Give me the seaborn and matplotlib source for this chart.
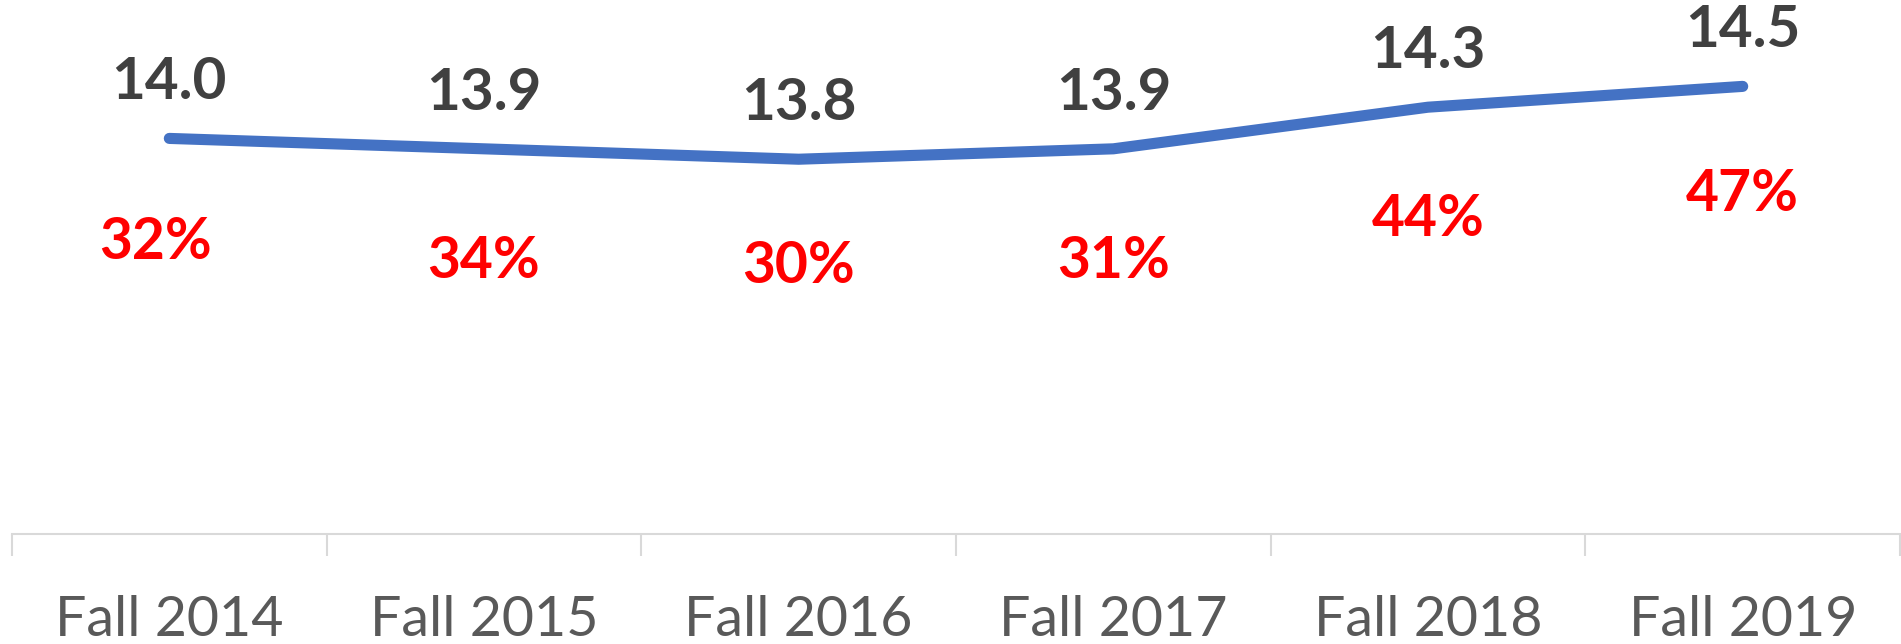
import numpy as np
import pandas as pd
import matplotlib
matplotlib.use("Agg")
import matplotlib.pyplot as plt
import seaborn as sns

# Chart data
terms = ["Fall 2014", "Fall 2015", "Fall 2016", "Fall 2017", "Fall 2018", "Fall 2019"]
avg_credits = [14.0, 13.9, 13.8, 13.9, 14.3, 14.5]
pct_labels = ["32%", "34%", "30%", "31%", "44%", "47%"]

# label placement (points from the line point, per term)
pct_dx = [-10, 0, 0, 0, 0, 0]
pct_dy = [-75, -81, -77, -81, -81, -78]

sns.set_theme(style="white")
plt.rcParams["font.family"] = ["Lato", "DejaVu Sans"]

df = pd.DataFrame({"pos": np.arange(len(terms)), "credits": avg_credits})

fig = plt.figure(figsize=(19.01, 6.44), dpi=100)
ax = fig.add_axes([0.0063, 0.171, 0.9932, 0.829])

sns.lineplot(data=df, x="pos", y="credits", ax=ax, color="#4472C4",
             linewidth=8, solid_capstyle="round", solid_joinstyle="round")

ax.set_xlim(-0.5, len(terms) - 0.5)
ax.set_ylim(10.2, 15.33)

for i, (v, p) in enumerate(zip(avg_credits, pct_labels)):
    ax.annotate(f"{v:.1f}", (i, v), xytext=(0, 40), textcoords="offset points",
                ha="center", va="center", fontsize=42, fontweight="bold",
                color="#404040")
    ax.annotate(p, (i, v), xytext=(pct_dx[i], pct_dy[i]), textcoords="offset points",
                ha="center", va="center", fontsize=41, fontweight="bold",
                color="#FF0000")

# axes styling
for side in ["top", "right", "left"]:
    ax.spines[side].set_visible(False)
ax.spines["bottom"].set_color("#D9D9D9")
ax.spines["bottom"].set_linewidth(1.5)
ax.set_yticks([])
ax.set_xticks(np.arange(len(terms)))
ax.set_xticklabels(terms)
ax.set_xticks(np.arange(len(terms) + 1) - 0.5, minor=True)
ax.tick_params(axis="x", which="major", length=0, pad=44, labelsize=40,
               labelcolor="#595959")
ax.tick_params(axis="x", which="minor", length=16, width=1.5, color="#D9D9D9",
               direction="out", bottom=True)
ax.set_xlabel("")
ax.set_ylabel("")

fig.savefig("out.png", dpi=100)
